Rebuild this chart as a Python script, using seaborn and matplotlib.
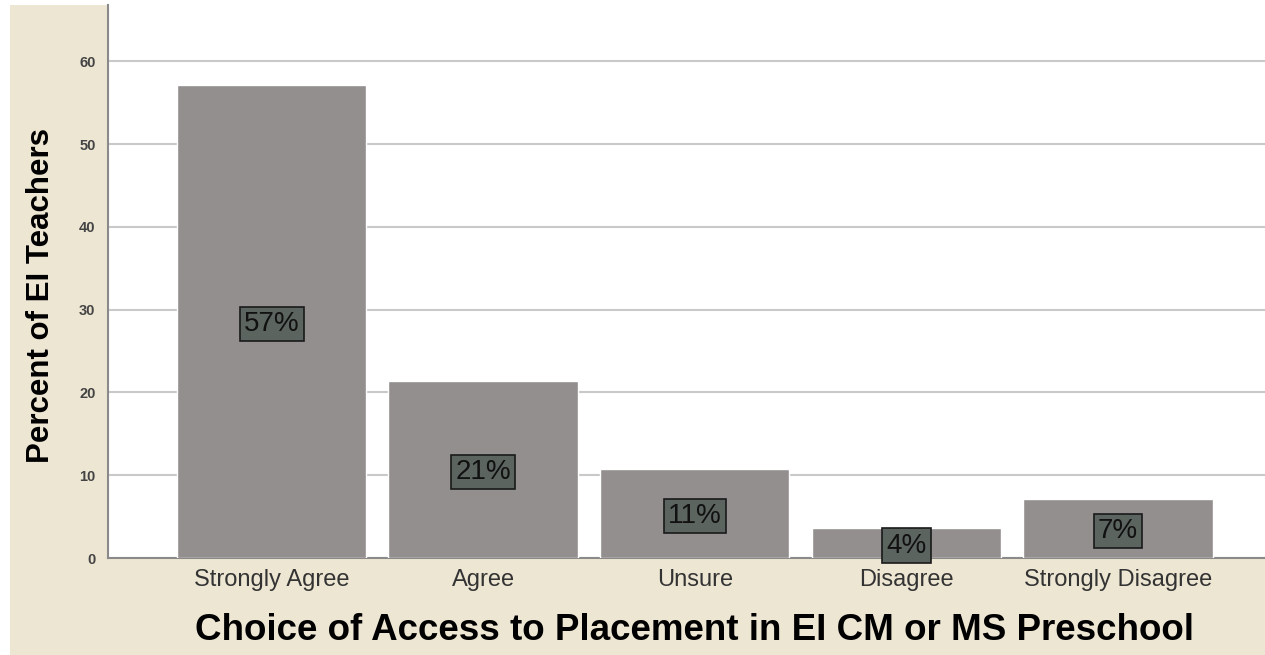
import matplotlib
matplotlib.use("Agg")
import matplotlib.pyplot as plt
import seaborn as sns
import pandas as pd
from matplotlib.patches import Rectangle

categories = ["Strongly Agree", "Agree", "Unsure", "Disagree", "Strongly Disagree"]
percents = [57.1, 21.4, 10.7, 3.6, 7.1]
labels = ["57%", "21%", "11%", "4%", "7%"]
yticks = [0, 10, 20, 30, 40, 50, 60]

sns.set_theme(style="white")
plt.rcParams["font.family"] = ["Liberation Sans", "DejaVu Sans"]

df = pd.DataFrame({"choice": categories, "percent": percents})

fig = plt.figure(figsize=(12.65, 6.55), dpi=100, facecolor="white")
# beige panel behind the axes
fig.patches.append(Rectangle((10 / 1265, 0), 1 - 10 / 1265, 650 / 655,
                             transform=fig.transFigure, facecolor="#ede6d3",
                             edgecolor="none", zorder=-10))
ax = fig.add_axes([108 / 1265, 97 / 655, 1 - 108 / 1265, 553 / 655])
ax.set_facecolor("white")

sns.barplot(data=df, x="choice", y="percent", color="#948f8f", saturation=1,
            width=0.895, order=categories, ax=ax, zorder=3)

for i, (v, lab) in enumerate(zip(percents, labels)):
    ax.text(i, v / 2 - 0.3, lab, ha="center", va="center", fontsize=20, color="#111111",
            zorder=5,
            bbox=dict(boxstyle="square,pad=0.15", facecolor="#5b645e",
                      edgecolor="#1a1a1a", linewidth=1.2))

ax.set_xlim(-0.773, 4.695)
ax.set_ylim(0, 66.8)
ax.set_yticks(yticks)
ax.set_yticklabels([str(t) for t in yticks], fontsize=10.5, fontweight="bold", color="#444444")
ax.tick_params(axis="x", labelsize=17, labelcolor="#333333", length=0, pad=8)
ax.tick_params(axis="y", length=0, pad=9)
ax.yaxis.grid(True, color="#c9c9c9", linewidth=1.5, zorder=0)
ax.set_axisbelow(True)

for s in ["top", "right"]:
    ax.spines[s].set_visible(False)
for s in ["left", "bottom"]:
    ax.spines[s].set_color("#8a8a8a")
    ax.spines[s].set_linewidth(1.5)

ax.set_xlabel("Choice of Access to Placement in EI CM or MS Preschool",
              fontsize=26.5, fontweight="bold", color="black")
ax.set_ylabel("Percent of EI Teachers", fontsize=22.5, fontweight="bold",
              color="black")
ax.xaxis.set_label_coords(0.507, -0.1)
ax.yaxis.set_label_coords(-0.045, 0.474)

fig.savefig("out.png", dpi=100, facecolor=fig.get_facecolor())
